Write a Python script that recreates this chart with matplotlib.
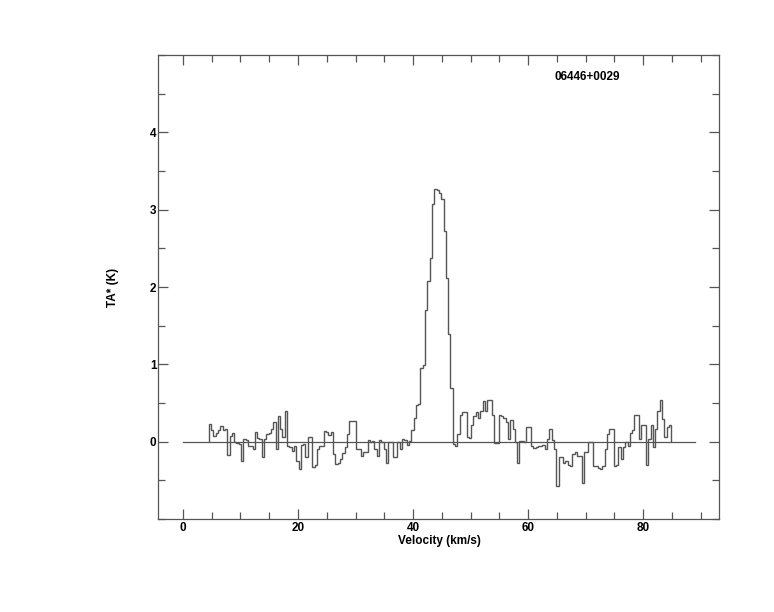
#!/usr/bin/python3
"""
Spectrum of source 06446+0029: antenna temperature against velocity,
drawn as a histogram-style step line in PGPLOT look.
"""
import numpy as np
import matplotlib
matplotlib.use('Agg')
import matplotlib.pyplot as plt
from matplotlib.ticker import MultipleLocator

# channel grid (km/s)
v_start = 4.5
channel_width = 0.4

# antenna temperature TA* (K), one value per channel
ta_values = [
    0.23, 0.15, 0.07, 0.11, 0.15, 0.20, 0.15, 0.16, -0.17, 0.07,
    0.11, 0.00, -0.02, -0.03, -0.25, 0.03, 0.02, -0.06, -0.06, -0.10,
    0.12, 0.05, 0.03, -0.20, 0.04, 0.10, 0.11, 0.16, 0.26, -0.09,
    0.33, 0.16, 0.06, 0.40, -0.05, -0.07, -0.12, -0.05, -0.25, -0.35,
    -0.04, -0.03, -0.20, 0.06, 0.06, -0.33, -0.30, -0.10, -0.05, -0.05,
    0.14, 0.13, 0.08, 0.13, -0.16, -0.29, -0.28, -0.22, -0.15, -0.07,
    0.10, 0.27, 0.27, 0.27, -0.09, -0.09, -0.18, -0.14, -0.13, 0.02,
    0.00, 0.01, -0.10, -0.18, 0.02, 0.00, -0.09, -0.27, -0.01, -0.01,
    -0.20, -0.20, 0.00, -0.10, 0.03, 0.02, -0.04, 0.01, 0.15, 0.31,
    0.47, 0.49, 0.95, 0.99, 1.70, 2.08, 2.38, 3.07, 3.27, 3.26,
    3.22, 3.14, 2.73, 2.12, 1.39, 0.70, -0.03, -0.06, 0.10, 0.34,
    0.39, 0.38, 0.06, 0.05, 0.22, 0.33, 0.38, 0.31, 0.40, 0.53,
    0.40, 0.54, 0.54, 0.35, -0.02, -0.02, 0.34, 0.33, 0.31, 0.25,
    0.03, 0.28, 0.16, -0.01, -0.28, 0.01, 0.01, 0.00, 0.19, 0.19,
    -0.05, -0.08, -0.07, -0.06, -0.06, -0.04, -0.09, 0.04, 0.17, 0.02,
    -0.09, -0.57, -0.20, -0.20, -0.27, -0.25, -0.30, -0.32, -0.16, -0.14,
    -0.19, -0.19, -0.53, -0.14, -0.13, 0.00, 0.00, -0.31, -0.32, -0.34,
    -0.35, -0.31, -0.09, 0.10, 0.17, 0.17, -0.32, -0.30, -0.07, -0.22,
    -0.07, 0.00, -0.06, 0.11, 0.15, 0.34, 0.34, 0.03, 0.22, 0.22,
    -0.30, 0.03, 0.21, -0.07, 0.16, 0.40, 0.54, 0.29, 0.06, 0.19,
    0.21,
]

# extent of the zero baseline (km/s)
baseline_range = [0.0, 89.0]

source_name = '06446+0029'
x_label = 'Velocity (km/s)'
y_label = 'TA* (K)'

line_color = '#555555'

plt.rcParams['font.family'] = ['Liberation Sans', 'DejaVu Sans']
plt.rcParams['font.weight'] = 'bold'

fig = plt.figure(figsize=(7.74, 6.12), dpi=100)
ax = fig.add_axes([0.2041, 0.152, 0.7248, 0.758])

edges = v_start + channel_width * np.arange(len(ta_values) + 1)
ax.stairs(ta_values, edges, color=line_color, linewidth=1.0)
ax.plot(baseline_range, [0, 0], color=line_color, linewidth=0.9)

ax.set_xlim(-4.35, 93.2)
ax.set_ylim(-1.0, 5.0)

ax.xaxis.set_major_locator(MultipleLocator(20))
ax.xaxis.set_minor_locator(MultipleLocator(5))
ax.set_yticks([0, 1, 2, 3, 4])
ax.yaxis.set_minor_locator(MultipleLocator(0.5))

ax.tick_params(which='both', direction='in', top=True, right=True,
               color=line_color, labelsize=8.5, width=0.9)
ax.tick_params(which='major', length=7.5)
ax.tick_params(which='minor', length=5)
ax.tick_params(axis='x', which='major', pad=2)
ax.tick_params(axis='y', which='major', pad=1)
for lab in ax.get_xticklabels() + ax.get_yticklabels():
    lab.set_fontweight('bold')

for spine in ax.spines.values():
    spine.set_color(line_color)
    spine.set_linewidth(0.9)

ax.set_xlabel(x_label, fontsize=8.5, fontweight='bold')
ax.set_ylabel(y_label, fontsize=8.5, fontweight='bold')
ax.xaxis.set_label_coords(0.502, -0.034)
ax.yaxis.set_label_coords(-0.07, 0.5)

ax.text(0.766, 0.953, source_name, transform=ax.transAxes,
        ha='center', va='center', fontsize=8.5, fontweight='bold')

fig.savefig('out.png', dpi=100)
